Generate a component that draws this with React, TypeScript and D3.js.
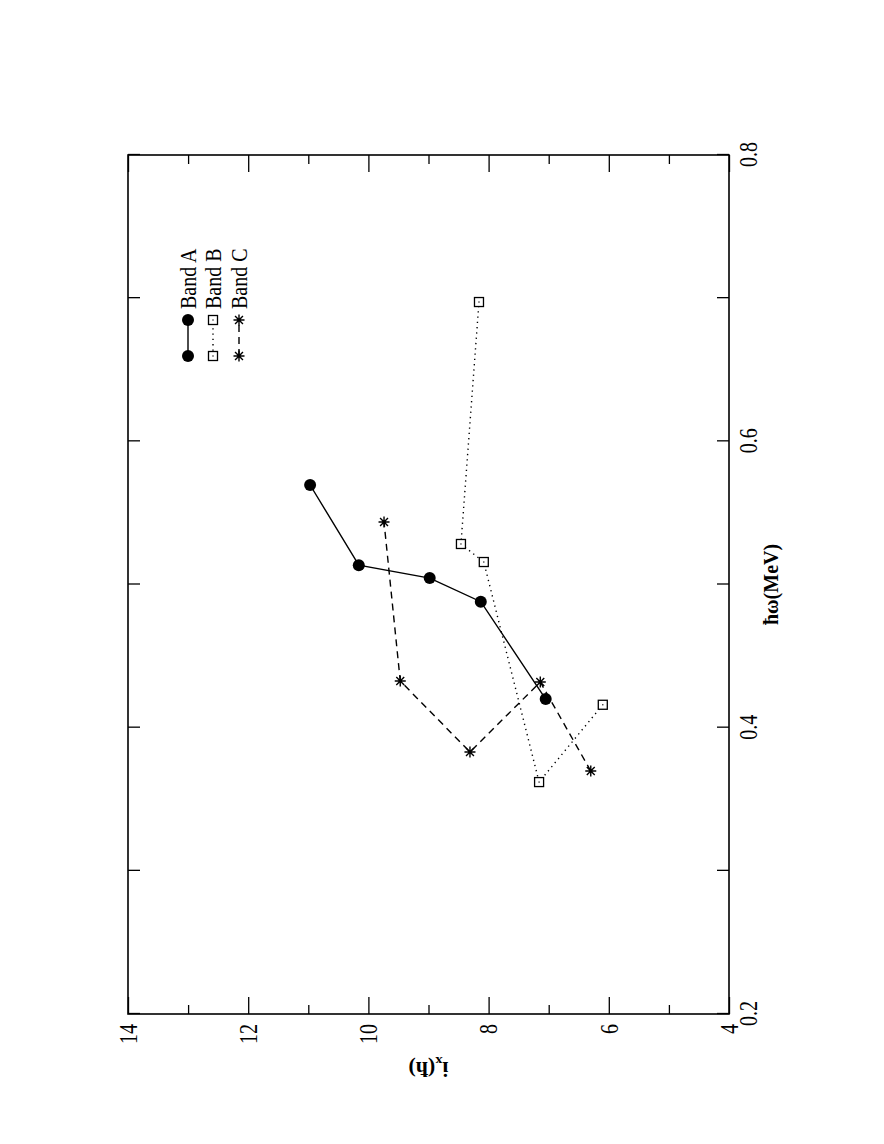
import * as d3 from "d3";
import { useRef, useEffect } from "react";

// values: hbar*omega (MeV) and aligned spin i_x (hbar)
const bandAOmega = [0.42, 0.488, 0.5045, 0.5135, 0.5695];
const bandAIx = [7.05, 8.13, 8.98, 10.16, 10.97];

const bandBOmega = [0.416, 0.362, 0.5157, 0.5283, 0.6973];
const bandBIx = [6.1, 7.16, 8.08, 8.46, 8.16];

const bandCOmega = [0.3697, 0.4319, 0.383, 0.4326, 0.5437];
const bandCIx = [6.3, 7.14, 8.31, 9.47, 9.74];

const bandNames = ["Band A", "Band B", "Band C"];

const omegaTicks = [0.2, 0.3, 0.4, 0.5, 0.6, 0.7, 0.8];
const omegaLabelled = ["0.2", "0.4", "0.6", "0.8"];
const ixMajor = [4, 6, 8, 10, 12, 14];
const ixMinor = [5, 7, 9, 11, 13];

export default function App({
  width = 884,
  height = 1144,
  marginTop = 155,
  marginLeft = 128,
  plotRight = 729,
  plotBottom = 1014,
}) {
  const svgRef = useRef();

  useEffect(() => {
    document.body.style.margin = "0";
    const svg = d3.select(svgRef.current);
    svg.selectAll("*").remove();

    // the figure is a landscape plot turned a quarter turn on the page
    const pw = plotBottom - marginTop; // landscape width
    const ph = plotRight - marginLeft; // landscape height
    const font = "'Liberation Serif', 'Times New Roman', serif";
    const tickStretch = 1.3; // glyphs in the source are taller than wide

    const g = svg.append("g")
      .attr("transform", `translate(${marginLeft},${plotBottom}) rotate(-90)`);

    const x = d3.scaleLinear().domain([0.2, 0.8]).range([0, pw]);
    const y = d3.scaleLinear().domain([4, 14]).range([ph, 0]);

    const fmt = d3.format(".1f");

    const styleAxis = (sel) => {
      sel.select(".domain").remove();
      sel.selectAll("line").attr("stroke", "#000").attr("stroke-width", 1.3);
      sel.selectAll("text")
        .attr("fill", "#000")
        .style("font-family", font)
        .style("font-size", "20px")
        .each(function () {
          const t = d3.select(this);
          const ty = +t.attr("y") || 0;
          t.attr("y", ty / tickStretch).attr("transform", `scale(1,${tickStretch})`);
        });
    };

    // omega axis, bottom (labelled) and top
    g.append("g")
      .attr("transform", `translate(0,${ph})`)
      .call(d3.axisBottom(x).tickValues(omegaTicks).tickSize(-12).tickPadding(10)
        .tickFormat(d => (omegaLabelled.includes(fmt(d)) ? fmt(d) : "")))
      .call(styleAxis);
    g.append("g")
      .call(d3.axisTop(x).tickValues(omegaTicks).tickSize(-12).tickFormat(() => ""))
      .call(styleAxis);

    // i_x axis, left (labelled) and right, major + minor
    g.append("g")
      .call(d3.axisLeft(y).tickValues(ixMajor).tickSize(-17).tickPadding(10)
        .tickFormat(d3.format("d")))
      .call(styleAxis);
    g.append("g")
      .call(d3.axisLeft(y).tickValues(ixMinor).tickSize(-9).tickFormat(() => ""))
      .call(styleAxis);
    g.append("g")
      .attr("transform", `translate(${pw},0)`)
      .call(d3.axisRight(y).tickValues(ixMajor).tickSize(-17).tickFormat(() => ""))
      .call(styleAxis);
    g.append("g")
      .attr("transform", `translate(${pw},0)`)
      .call(d3.axisRight(y).tickValues(ixMinor).tickSize(-9).tickFormat(() => ""))
      .call(styleAxis);

    g.append("rect")
      .attr("width", pw)
      .attr("height", ph)
      .attr("fill", "none")
      .attr("stroke", "#000")
      .attr("stroke-width", 1.6);

    // axis titles
    g.append("text")
      .attr("transform", `translate(${pw / 2},${ph + 49}) scale(1,1.1)`)
      .attr("text-anchor", "middle")
      .style("font-family", font)
      .style("font-size", "20px")
      .style("font-weight", "bold")
      .text("ħω(MeV)");

    const yt = g.append("text")
      .attr("transform", `translate(-48,${ph / 2}) rotate(-90) scale(1.1,1)`)
      .attr("text-anchor", "middle")
      .style("font-family", font)
      .style("font-size", "20px")
      .style("font-weight", "bold");
    yt.append("tspan").text("i");
    yt.append("tspan").attr("dy", 5).style("font-size", "13px").text("x");
    yt.append("tspan").attr("dy", -5).text("(ħ)");

    // markers
    const drawMarker = (sel, kind, cx, cy) => {
      if (kind === 0) {
        sel.append("circle").attr("cx", cx).attr("cy", cy).attr("r", 6).attr("fill", "#000");
      } else if (kind === 1) {
        sel.append("rect")
          .attr("x", cx - 4.5).attr("y", cy - 4.5)
          .attr("width", 9).attr("height", 9)
          .attr("fill", "#fff").attr("stroke", "#000").attr("stroke-width", 1.3);
        sel.append("rect")
          .attr("x", cx - 0.6).attr("y", cy - 0.6)
          .attr("width", 1.2).attr("height", 1.2).attr("fill", "#000");
      } else {
        const s = 5.5;
        const d = s * 0.72;
        sel.append("path")
          .attr("d", `M${cx - s},${cy}H${cx + s}M${cx},${cy - s}V${cy + s}` +
            `M${cx - d},${cy - d}L${cx + d},${cy + d}M${cx - d},${cy + d}L${cx + d},${cy - d}`)
          .attr("stroke", "#000").attr("stroke-width", 1.4);
      }
    };

    const series = [
      { w: bandAOmega, i: bandAIx, dash: null },
      { w: bandBOmega, i: bandBIx, dash: "1.3,4" },
      { w: bandCOmega, i: bandCIx, dash: "7,5" },
    ];

    const line = d3.line().x(d => x(d[0])).y(d => y(d[1]));

    series.forEach((s, k) => {
      const pts = s.w.map((w, j) => [w, s.i[j]]);
      g.append("path")
        .datum(pts)
        .attr("d", line)
        .attr("fill", "none")
        .attr("stroke", "#000")
        .attr("stroke-width", 1.4)
        .attr("stroke-dasharray", s.dash);
      const mg = g.append("g");
      pts.forEach(p => drawMarker(mg, k, x(p[0]), y(p[1])));
    });

    // legend (upper right of the landscape plot)
    const legX0 = 658;
    const legX1 = 694;
    const legRows = [60, 85, 111];
    series.forEach((s, k) => {
      const ly = legRows[k];
      g.append("line")
        .attr("x1", legX0).attr("x2", legX1)
        .attr("y1", ly).attr("y2", ly)
        .attr("stroke", "#000")
        .attr("stroke-width", 1.4)
        .attr("stroke-dasharray", s.dash);
      const mg = g.append("g");
      drawMarker(mg, k, legX0, ly);
      drawMarker(mg, k, legX1, ly);
      g.append("text")
        .attr("transform", `translate(${legX1 + 11},${ly}) scale(1,1.15)`)
        .attr("dy", "0.35em")
        .style("font-family", font)
        .style("font-size", "20px")
        .text(bandNames[k]);
    });
  }, [width, height, marginTop, marginLeft, plotRight, plotBottom]);

  return (
    <svg ref={svgRef} width={width} height={height} style={{ display: "block", background: "#fff" }}></svg>
  );
}
